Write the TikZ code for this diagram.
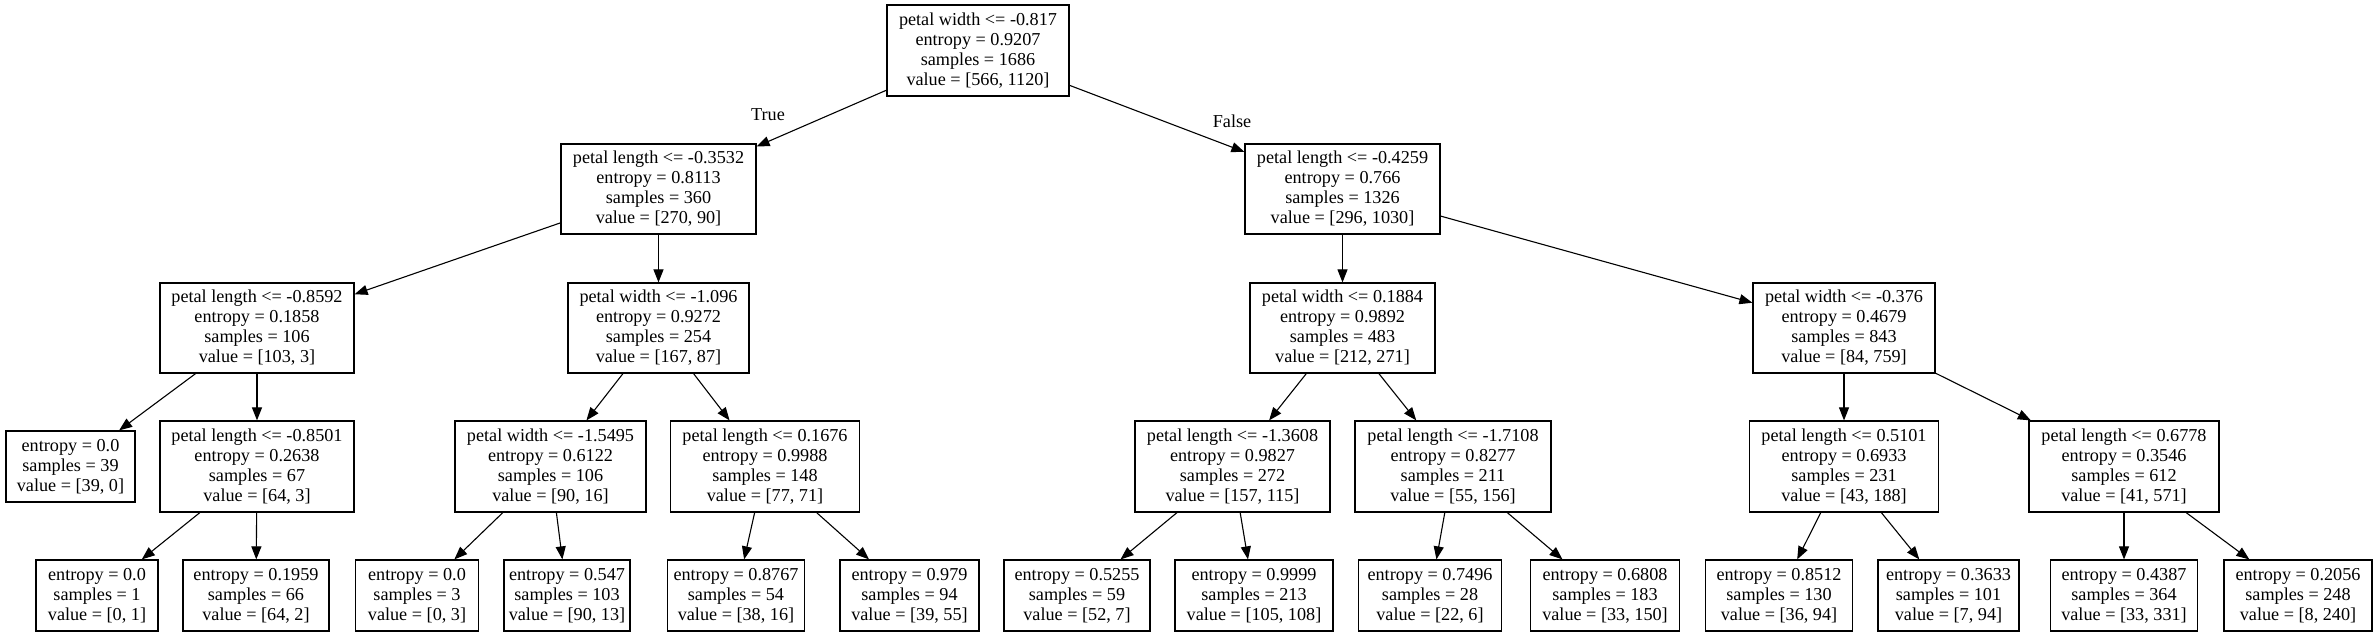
\documentclass[tikz,border=0pt]{standalone}
\usepackage{fontspec}
\newfontfamily\gvfont{Liberation Serif}
\newcommand\gvf{\gvfont\fontsize{18.2}{20}\selectfont}
\usetikzlibrary{arrows.meta}
\tikzset{
  box/.style={draw, line width=1.2pt, inner sep=0pt, align=center, font=\gvf, minimum height=91pt},
  leaf/.style={box, minimum height=71pt},
  edge/.style={line width=1.1pt, -{Triangle[length=13pt,width=10pt]}},
  lbl/.style={font=\gvf, inner sep=0pt}
}
\begin{document}
\begin{tikzpicture}[x=1pt,y=-1pt]
\useasboundingbox[fill=white] (0,0) rectangle (2376,637);
% level 0
\node[box, minimum width=182pt] (r) at (978,50.5) {petal width <= -0.817\\entropy = 0.9207\\samples = 1686\\value = [566, 1120]};
% level 1
\node[box, minimum width=195pt, minimum height=90pt] (A) at (658.5,189) {petal length <= -0.3532\\entropy = 0.8113\\samples = 360\\value = [270, 90]};
\node[box, minimum width=195pt, minimum height=90pt] (B) at (1342.5,189) {petal length <= -0.4259\\entropy = 0.766\\samples = 1326\\value = [296, 1030]};
% level 2
\node[box, minimum width=194pt, minimum height=90pt] (A1) at (257,328) {petal length <= -0.8592\\entropy = 0.1858\\samples = 106\\value = [103, 3]};
\node[box, minimum width=181pt, minimum height=90pt] (A2) at (658.5,328) {petal width <= -1.096\\entropy = 0.9272\\samples = 254\\value = [167, 87]};
\node[box, minimum width=185pt, minimum height=90pt] (B1) at (1342.5,328) {petal width <= 0.1884\\entropy = 0.9892\\samples = 483\\value = [212, 271]};
\node[box, minimum width=182pt, minimum height=90pt] (B2) at (1844,328) {petal width <= -0.376\\entropy = 0.4679\\samples = 843\\value = [84, 759]};
% level 3
\node[leaf, minimum width=129pt] (A11) at (70.5,466.5) {entropy = 0.0\\samples = 39\\value = [39, 0]};
\node[box, minimum width=194pt] (A12) at (257,466.5) {petal length <= -0.8501\\entropy = 0.2638\\samples = 67\\value = [64, 3]};
\node[box, minimum width=191pt] (A21) at (550.5,466.5) {petal width <= -1.5495\\entropy = 0.6122\\samples = 106\\value = [90, 16]};
\node[box, minimum width=189pt] (A22) at (765,466.5) {petal length <= 0.1676\\entropy = 0.9988\\samples = 148\\value = [77, 71]};
\node[box, minimum width=195pt] (B11) at (1232.5,466.5) {petal length <= -1.3608\\entropy = 0.9827\\samples = 272\\value = [157, 115]};
\node[box, minimum width=196pt] (B12) at (1453,466.5) {petal length <= -1.7108\\entropy = 0.8277\\samples = 211\\value = [55, 156]};
\node[box, minimum width=189pt] (B21) at (1844,466.5) {petal length <= 0.5101\\entropy = 0.6933\\samples = 231\\value = [43, 188]};
\node[box, minimum width=190pt] (B22) at (2124,466.5) {petal length <= 0.6778\\entropy = 0.3546\\samples = 612\\value = [41, 571]};
% level 4
\node[leaf, minimum width=122pt] (A121) at (97,595.5) {entropy = 0.0\\samples = 1\\value = [0, 1]};
\node[leaf, minimum width=146pt] (A122) at (256,595.5) {entropy = 0.1959\\samples = 66\\value = [64, 2]};
\node[leaf, minimum width=123pt] (A211) at (417,595.5) {entropy = 0.0\\samples = 3\\value = [0, 3]};
\node[leaf, minimum width=126pt] (A212) at (567,595.5) {entropy = 0.547\\samples = 103\\value = [90, 13]};
\node[leaf, minimum width=137pt] (A221) at (736,595.5) {entropy = 0.8767\\samples = 54\\value = [38, 16]};
\node[leaf, minimum width=139pt] (A222) at (909.5,595.5) {entropy = 0.979\\samples = 94\\value = [39, 55]};
\node[leaf, minimum width=146pt] (B111) at (1077,595.5) {entropy = 0.5255\\samples = 59\\value = [52, 7]};
\node[leaf, minimum width=158pt] (B112) at (1254,595.5) {entropy = 0.9999\\samples = 213\\value = [105, 108]};
\node[leaf, minimum width=143pt] (B121) at (1430,595.5) {entropy = 0.7496\\samples = 28\\value = [22, 6]};
\node[leaf, minimum width=149pt] (B122) at (1605,595.5) {entropy = 0.6808\\samples = 183\\value = [33, 150]};
\node[leaf, minimum width=147pt] (B211) at (1779,595.5) {entropy = 0.8512\\samples = 130\\value = [36, 94]};
\node[leaf, minimum width=141pt] (B212) at (1948.5,595.5) {entropy = 0.3633\\samples = 101\\value = [7, 94]};
\node[leaf, minimum width=147pt] (B221) at (2124,595.5) {entropy = 0.4387\\samples = 364\\value = [33, 331]};
\node[leaf, minimum width=148pt] (B222) at (2298,595.5) {entropy = 0.2056\\samples = 248\\value = [8, 240]};
% labels
\node[lbl] (t) at (768,115) {True};
\node[lbl] (f) at (1232,121) {False};
% edges
\draw[edge] (r) -- (A);
\draw[edge] (r) -- (B);
\draw[edge] (A) -- (A1);
\draw[edge] (A) -- (A2);
\draw[edge] (B) -- (B1);
\draw[edge] (B) -- (B2);
\draw[edge] (A1) -- (A11);
\draw[edge] (A1) -- (A12);
\draw[edge] (A2) -- (A21);
\draw[edge] (A2) -- (A22);
\draw[edge] (B1) -- (B11);
\draw[edge] (B1) -- (B12);
\draw[edge] (B2) -- (B21);
\draw[edge] (B2) -- (B22);
\draw[edge] (A12) -- (A121);
\draw[edge] (A12) -- (A122);
\draw[edge] (A21) -- (A211);
\draw[edge] (A21) -- (A212);
\draw[edge] (A22) -- (A221);
\draw[edge] (A22) -- (A222);
\draw[edge] (B11) -- (B111);
\draw[edge] (B11) -- (B112);
\draw[edge] (B12) -- (B121);
\draw[edge] (B12) -- (B122);
\draw[edge] (B21) -- (B211);
\draw[edge] (B21) -- (B212);
\draw[edge] (B22) -- (B221);
\draw[edge] (B22) -- (B222);
\end{tikzpicture}
\end{document}
